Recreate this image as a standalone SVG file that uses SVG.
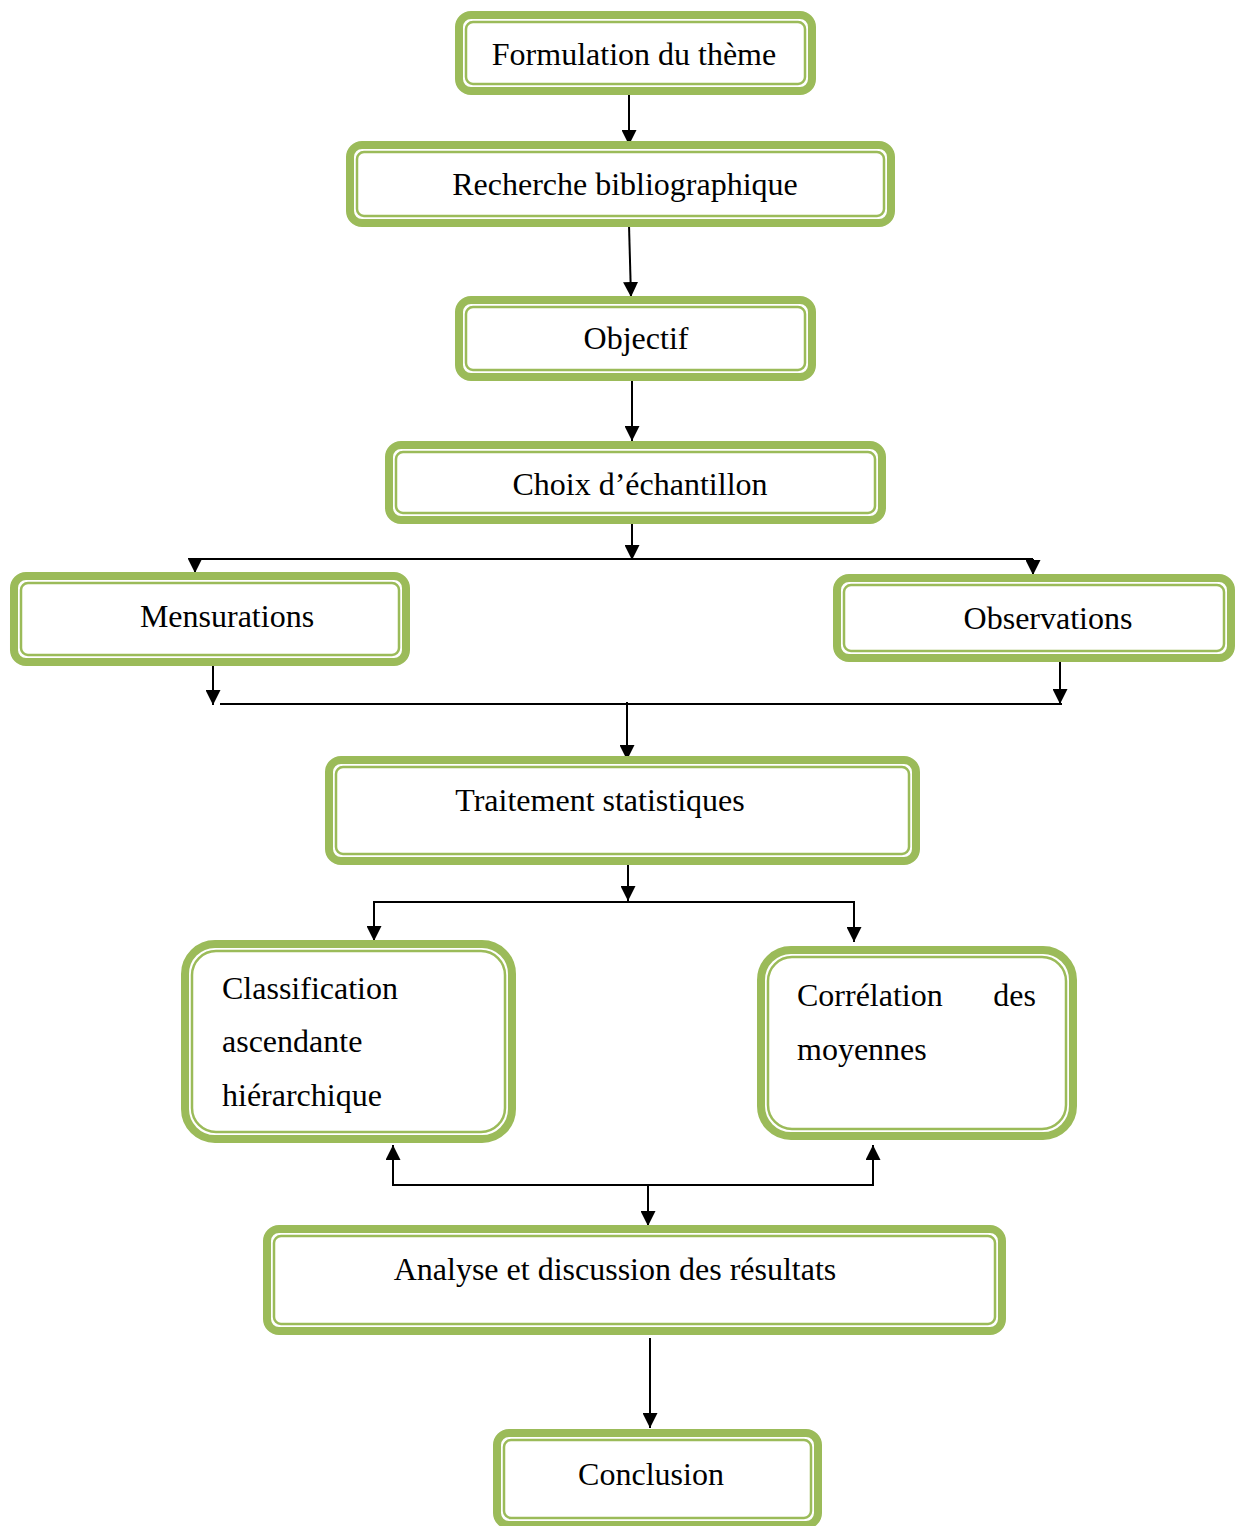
<svg xmlns="http://www.w3.org/2000/svg" width="1240" height="1526" viewBox="0 0 1240 1526">
<style>
.o{fill:#fff;stroke:#9BBB59;stroke-width:8}
.i{fill:none;stroke:#9BBB59;stroke-width:2.5}
.t{font-family:"Liberation Serif","Times New Roman",serif;font-size:32px;fill:#000}
.c{text-anchor:middle}
.l{fill:none;stroke:#000;stroke-width:2}
</style>
<defs>
<marker id="a" viewBox="0 0 10 10" refX="10" refY="5" markerWidth="15" markerHeight="15" markerUnits="userSpaceOnUse" orient="auto">
<path d="M0,0 L10,5 L0,10 z" fill="#000"/>
</marker>
</defs>
<rect width="1240" height="1526" fill="#fff"/>
<g id="connectors">
<line class="l" x1="629" y1="95" x2="629" y2="145" marker-end="url(#a)"/>
<line class="l" x1="629" y1="225" x2="631" y2="297" marker-end="url(#a)"/>
<line class="l" x1="632" y1="381" x2="632" y2="441" marker-end="url(#a)"/>
<line class="l" x1="632" y1="522" x2="632" y2="560" marker-end="url(#a)"/>
<line class="l" x1="195" y1="559" x2="1033" y2="559"/>
<line class="l" x1="195" y1="559" x2="195" y2="573" marker-end="url(#a)"/>
<line class="l" x1="1033" y1="559" x2="1033" y2="575" marker-end="url(#a)"/>
<line class="l" x1="213" y1="664" x2="213" y2="705" marker-end="url(#a)"/>
<line class="l" x1="1060" y1="662" x2="1060" y2="704" marker-end="url(#a)"/>
<line class="l" x1="220" y1="704" x2="1062" y2="704"/>
<line class="l" x1="627" y1="702" x2="627" y2="760" marker-end="url(#a)"/>
<line class="l" x1="628" y1="862" x2="628" y2="901" marker-end="url(#a)"/>
<polyline class="l" points="374,941 374,902 854,902 854,942"/>
<line class="l" x1="374" y1="902" x2="374" y2="941" marker-end="url(#a)"/>
<line class="l" x1="854" y1="902" x2="854" y2="942" marker-end="url(#a)"/>
<polyline class="l" points="393,1145 393,1185 873,1185 873,1145"/>
<line class="l" x1="393" y1="1185" x2="393" y2="1145" marker-end="url(#a)"/>
<line class="l" x1="873" y1="1185" x2="873" y2="1145" marker-end="url(#a)"/>
<line class="l" x1="648" y1="1185" x2="648" y2="1226" marker-end="url(#a)"/>
<line class="l" x1="650" y1="1338" x2="650" y2="1428" marker-end="url(#a)"/>
</g>
<g id="n1"><rect class="o" x="459" y="15" width="353" height="76" rx="12"/><rect class="i" x="466" y="22" width="339" height="62" rx="7"/><text class="t c" x="634" y="65">Formulation du thème</text></g>
<g id="n2"><rect class="o" x="350" y="145" width="541" height="78" rx="12"/><rect class="i" x="357" y="152" width="527" height="64" rx="7"/><text class="t c" x="625" y="195">Recherche bibliographique</text></g>
<g id="n3"><rect class="o" x="459" y="300" width="353" height="77" rx="12"/><rect class="i" x="466" y="307" width="339" height="63" rx="7"/><text class="t c" x="636" y="349">Objectif</text></g>
<g id="n4"><rect class="o" x="389" y="445" width="493" height="75" rx="12"/><rect class="i" x="396" y="452" width="479" height="61" rx="7"/><text class="t c" x="640" y="495">Choix d’échantillon</text></g>
<g id="n5"><rect class="o" x="14" y="576" width="392" height="86" rx="12"/><rect class="i" x="21" y="583" width="378" height="72" rx="7"/><text class="t c" x="227" y="627">Mensurations</text></g>
<g id="n6"><rect class="o" x="837" y="578" width="394" height="80" rx="12"/><rect class="i" x="844" y="585" width="380" height="66" rx="7"/><text class="t c" x="1048" y="629">Observations</text></g>
<g id="n7"><rect class="o" x="329" y="760" width="587" height="101" rx="12"/><rect class="i" x="336" y="767" width="573" height="87" rx="7"/><text class="t c" x="600" y="811">Traitement statistiques</text></g>
<g id="n8"><rect class="o" x="185" y="944" width="327" height="195" rx="30"/><rect class="i" x="192" y="951" width="313" height="181" rx="24"/><text class="t" x="222" y="999">Classification</text><text class="t" x="222" y="1052">ascendante</text><text class="t" x="222" y="1106">hiérarchique</text></g>
<g id="n9"><rect class="o" x="761" y="950" width="312" height="186" rx="30"/><rect class="i" x="768" y="957" width="298" height="172" rx="24"/><text class="t" x="797" y="1006">Corrélation</text><text class="t" x="1036" y="1006" text-anchor="end">des</text><text class="t" x="797" y="1060">moyennes</text></g>
<g id="n10"><rect class="o" x="267" y="1229" width="735" height="102" rx="12"/><rect class="i" x="274" y="1236" width="721" height="88" rx="7"/><text class="t c" x="615" y="1280">Analyse et discussion des résultats</text></g>
<g id="n11"><rect class="o" x="497" y="1433" width="321" height="92" rx="12"/><rect class="i" x="504" y="1440" width="307" height="78" rx="7"/><text class="t c" x="651" y="1485">Conclusion</text></g>
</svg>
